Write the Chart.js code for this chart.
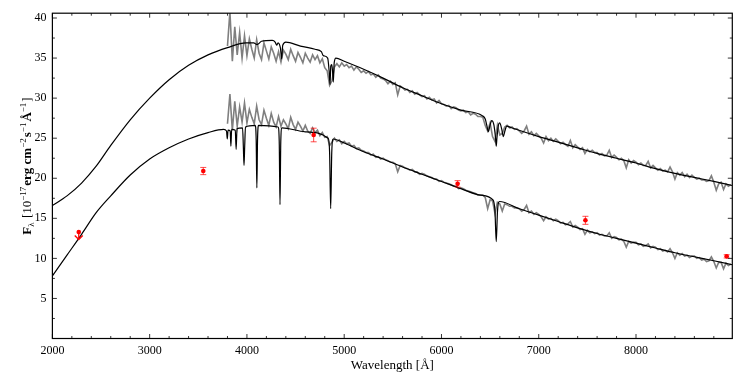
<!DOCTYPE html>
<html>
<head>
<meta charset="utf-8">
<script src="https://cdn.jsdelivr.net/npm/chart.js@4.4.1/dist/chart.umd.min.js"></script>
<style>
    html, body { margin: 0; padding: 0; background: #ffffff; }
    canvas { display: block; }
</style>
</head>
<body>
<canvas id="sed-chart" width="747" height="374"></canvas>
<script>
// axis ticks
const xTicks = [2000, 3000, 4000, 5000, 6000, 7000, 8000];
const yTicks = [5, 10, 15, 20, 25, 30, 35, 40];

// model spectra (wavelength in Angstrom, flux in 1e-17 erg/cm2/s/A)
const modelUpperWave = [2000, 2150, 2300, 2450, 2600, 2800, 3000, 3200, 3400, 3600, 3800,
    3990, 4070, 4100, 4120, 4150, 4260, 4290, 4306, 4320, 4345, 4357, 4368, 4400, 4550, 4700,
    4765, 4785, 4830, 4845, 4854, 4862, 4872, 4880, 4888, 4897, 4915, 5000, 5200, 5400, 5600,
    5800, 6000, 6200, 6420, 6450, 6468, 6482, 6497, 6516, 6540, 6556, 6563, 6570, 6585, 6598,
    6620, 6636, 6652, 6672, 6720, 7000, 7200, 7400, 7600, 7800, 8000, 8200, 8400, 8600, 8800, 8990];
const modelUpperFlux = [16.6, 17.8, 19.4, 21.5, 24.1, 27.3, 30.0, 32.3, 34.1, 35.4, 36.3,
    36.9, 36.9, 36.7, 36.8, 37.1, 37.2, 37.0, 36.6, 36.9, 36.2, 34.9, 36.6, 37.0, 36.5, 36.1,
    35.8, 35.3, 35.0, 33.4, 31.7, 34.0, 34.2, 33.4, 32.0, 34.4, 35.0, 34.6, 33.6, 32.5, 31.3,
    30.3, 29.3, 28.5, 27.8, 27.4, 26.5, 25.8, 26.5, 27.2, 26.6, 25.0, 24.0, 25.0, 26.6, 26.9,
    26.1, 25.2, 25.9, 26.5, 26.3, 25.2, 24.5, 23.8, 23.1, 22.5, 21.9, 21.2, 20.6, 20.1, 19.6, 19.1];

const modelLowerWave = [2000, 2150, 2300, 2450, 2600, 2800, 3000, 3200, 3400, 3600,
    3760, 3790, 3798, 3806, 3828, 3835, 3843, 3880, 3889, 3898, 3955, 3963, 3970, 3977, 3985,
    4085, 4095, 4102, 4109, 4120, 4320, 4332, 4340, 4348, 4360, 4600, 4835, 4850, 4861, 4872,
    4887, 5000, 5200, 5400, 5600, 5800, 6000, 6200, 6400, 6530, 6550, 6563, 6576, 6596, 6800,
    7000, 7200, 7400, 7600, 7800, 8000, 8200, 8400, 8600, 8800, 8990];
const modelLowerFlux = [7.8, 10.4, 13.0, 15.7, 17.8, 20.4, 22.4, 23.8, 24.9, 25.7,
    26.1, 25.9, 24.9, 26.0, 25.9, 24.0, 26.1, 26.0, 23.6, 26.2, 26.3, 24.0, 21.6, 24.0, 26.4,
    26.6, 24.8, 18.8, 24.8, 26.6, 26.4, 24.6, 16.7, 24.6, 26.3, 25.8, 25.0, 23.2, 16.2, 23.2,
    24.9, 24.4, 23.3, 22.4, 21.4, 20.5, 19.6, 18.7, 17.9, 17.3, 15.9, 12.1, 15.9, 17.1, 16.2,
    15.4, 14.6, 13.8, 13.1, 12.5, 11.9, 11.3, 10.7, 10.2, 9.7, 9.2];

// observed spectra
const obsWave = [
    3800, 3825, 3850, 3875, 3900, 3925, 3950, 3975,
    4000, 4025, 4050, 4075, 4100, 4125, 4150, 4175,
    4200, 4225, 4250, 4275, 4300, 4325, 4350, 4375,
    4400, 4425, 4450, 4475, 4500, 4525, 4550, 4575,
    4600, 4625, 4650, 4675, 4700, 4725, 4750, 4775,
    4800, 4825, 4850, 4875, 4900, 4925, 4950, 4975,
    5000, 5025, 5050, 5075, 5100, 5125, 5150, 5175,
    5200, 5225, 5250, 5275, 5300, 5325, 5350, 5375,
    5400, 5425, 5450, 5475, 5500, 5525, 5550, 5575,
    5600, 5625, 5650, 5675, 5700, 5725, 5750, 5775,
    5800, 5825, 5850, 5875, 5900, 5925, 5950, 5975,
    6000, 6025, 6050, 6075, 6100, 6125, 6150, 6175,
    6200, 6225, 6250, 6275, 6300, 6325, 6350, 6375,
    6400, 6425, 6450, 6475, 6500, 6525, 6550, 6575,
    6600, 6625, 6650, 6675, 6700, 6725, 6750, 6775,
    6800, 6825, 6850, 6875, 6900, 6925, 6950, 6975,
    7000, 7025, 7050, 7075, 7100, 7125, 7150, 7175,
    7200, 7225, 7250, 7275, 7300, 7325, 7350, 7375,
    7400, 7425, 7450, 7475, 7500, 7525, 7550, 7575,
    7600, 7625, 7650, 7675, 7700, 7725, 7750, 7775,
    7800, 7825, 7850, 7875, 7900, 7925, 7950, 7975,
    8000, 8025, 8050, 8075, 8100, 8125, 8150, 8175,
    8200, 8225, 8250, 8275, 8300, 8325, 8350, 8375,
    8400, 8425, 8450, 8475, 8500, 8525, 8550, 8575,
    8600, 8625, 8650, 8675, 8700, 8725, 8750, 8775,
    8800, 8825, 8850, 8875, 8900, 8925, 8950, 8975];
const obsUpperFlux = [
    36.5, 40.8, 34.6, 38.9, 35.4, 38.2, 35.0, 37.8,
    35.3, 37.4, 36.1, 35.0, 37.3, 35.6, 34.8, 36.9,
    35.9, 34.9, 36.4, 35.6, 34.6, 35.8, 34.5, 36.0,
    35.5, 34.8, 36.1, 35.3, 34.6, 35.7, 35.1, 34.4,
    35.6, 35.0, 34.5, 35.4, 34.8, 35.3, 34.4, 34.9,
    33.8, 33.4, 31.6, 32.2, 33.9, 34.3, 33.9, 34.4,
    34.0, 34.2, 33.8, 34.0, 33.5, 33.9, 33.6, 33.2,
    33.4, 33.1, 33.3, 32.9, 33.0, 32.6, 32.9, 32.5,
    32.4, 32.2, 31.8, 32.1, 31.7, 31.9, 30.4, 31.5,
    31.3, 31.0, 31.1, 30.7, 30.9, 30.5, 30.7, 30.4,
    30.2, 30.3, 29.9, 30.1, 29.8, 29.9, 29.4, 29.7,
    29.3, 29.2, 29.0, 29.1, 28.7, 28.9, 28.8, 28.5,
    28.4, 28.5, 28.2, 28.3, 27.9, 28.1, 28.0, 27.7,
    27.7, 27.6, 26.6, 25.9, 26.9, 25.2, 24.6, 26.6,
    25.4, 25.6, 26.4, 26.6, 26.3, 26.4, 26.1, 26.2,
    25.9, 25.6, 25.9, 26.5, 25.5, 25.8, 25.3, 25.6,
    25.3, 25.0, 24.4, 25.2, 24.7, 25.0, 24.6, 24.9,
    24.6, 24.3, 24.5, 24.2, 24.0, 24.7, 23.8, 24.2,
    23.9, 23.6, 23.8, 23.1, 23.6, 23.3, 23.5, 23.2,
    23.2, 22.9, 23.1, 22.8, 22.9, 23.5, 22.6, 22.9,
    22.6, 22.3, 22.5, 22.2, 21.3, 22.3, 21.9, 22.2,
    22.0, 21.7, 21.9, 21.6, 21.6, 22.1, 21.3, 21.6,
    21.3, 21.0, 21.2, 20.9, 21.0, 20.8, 21.4, 20.8,
    19.9, 20.7, 20.4, 20.7, 20.2, 20.5, 20.1, 20.4,
    20.1, 19.9, 20.0, 19.8, 19.8, 19.6, 19.7, 20.3,
    19.5, 18.5, 19.3, 19.5, 18.6, 19.3, 19.0, 19.2];
const obsLowerFlux = [
    26.8, 30.5, 26.0, 29.6, 26.5, 28.9, 27.0, 29.4,
    26.9, 28.6, 27.6, 26.8, 29.0, 27.3, 26.7, 28.5,
    27.5, 26.6, 28.1, 27.0, 26.4, 27.7, 26.5, 27.3,
    26.8, 26.2, 27.6, 26.7, 26.1, 27.0, 26.5, 25.9,
    26.6, 25.9, 25.6, 26.3, 25.7, 26.0, 25.3, 25.7,
    25.1, 25.2, 24.1, 24.5, 25.0, 24.6, 24.8, 24.3,
    24.6, 24.3, 24.4, 24.0, 24.1, 23.7, 23.8, 23.5,
    23.4, 23.2, 23.2, 22.9, 23.0, 22.6, 22.7, 22.4,
    22.5, 22.3, 22.2, 22.0, 22.0, 21.8, 20.8, 21.6,
    21.5, 21.3, 21.2, 21.0, 21.1, 20.8, 20.8, 20.5,
    20.6, 20.5, 20.3, 20.2, 20.1, 19.9, 19.9, 19.6,
    19.7, 19.5, 19.4, 19.3, 19.2, 19.0, 19.0, 18.7,
    18.8, 18.7, 18.5, 18.4, 18.3, 18.2, 18.1, 17.9,
    17.9, 17.9, 17.6, 16.2, 17.3, 17.2, 15.6, 17.0,
    16.8, 15.9, 16.8, 16.7, 16.5, 16.5, 16.3, 16.3,
    16.2, 15.9, 16.1, 16.6, 15.7, 15.9, 15.5, 15.7,
    15.5, 15.2, 14.7, 15.2, 14.9, 15.0, 14.7, 14.9,
    14.7, 14.4, 14.5, 14.2, 14.3, 14.6, 13.9, 14.1,
    13.9, 13.6, 13.7, 13.0, 13.5, 13.2, 13.3, 13.1,
    13.2, 12.9, 13.0, 12.8, 12.8, 13.2, 12.5, 12.7,
    12.6, 12.3, 12.4, 12.1, 11.4, 12.1, 11.9, 12.0,
    12.0, 11.7, 11.8, 11.5, 11.6, 11.8, 11.3, 11.5,
    11.4, 11.1, 11.2, 10.9, 11.0, 10.8, 11.2, 10.7,
    10.0, 10.7, 10.4, 10.6, 10.3, 10.4, 10.1, 10.3,
    10.3, 10.0, 10.1, 9.8, 9.9, 9.6, 9.7, 10.2,
    9.6, 8.8, 9.5, 9.5, 8.7, 9.4, 9.1, 9.3];

// broadband photometry (NUV, u, g, r, i, z)
const photWave = [2271, 3551, 4686, 6166, 7480, 8932];
const photFlux = [13.3, 20.9, 25.4, 19.3, 14.75, 10.25];
const photErr = [0.95, 0.45, 0.85, 0.4, 0.5, 0.2];
const photUpperLimit = [true, false, false, false, false, false];

const serif = "'Liberation Serif', 'Times New Roman', serif";

function toPoints(waves, fluxes) {
    return waves.map((w, i) => ({ x: w, y: fluxes[i] }));
}

const yTitleParts = [
    { text: 'F', weight: 'bold', size: 13, shift: 0 },
    { text: 'λ', weight: 'normal', size: 9, shift: 3 },
    { text: ' [10', weight: 'normal', size: 13, shift: 0 },
    { text: '−17', weight: 'normal', size: 9, shift: -5 },
    { text: 'erg cm', weight: 'bold', size: 13, shift: 0 },
    { text: '−2', weight: 'normal', size: 9, shift: -5 },
    { text: 's', weight: 'bold', size: 13, shift: 0 },
    { text: '−1', weight: 'normal', size: 9, shift: -5 },
    { text: 'Å', weight: 'bold', size: 13, shift: 0 },
    { text: '−1', weight: 'normal', size: 9, shift: -5 },
    { text: ']', weight: 'normal', size: 13, shift: 0 },
];

// error bars and the upper-limit arrow, drawn just under the photometry markers
const photometryBars = {
    id: 'photometryBars',
    beforeDatasetDraw(chart, args) {
        if (args.index !== 4) {
            return;
        }
        const { ctx, scales: { x, y } } = chart;
        ctx.save();
        photWave.forEach((w, i) => {
            const px = x.getPixelForValue(w);
            const py = y.getPixelForValue(photFlux[i]);
            ctx.beginPath();
            if (photUpperLimit[i]) {
                const tip = y.getPixelForValue(photFlux[i] - photErr[i]);
                ctx.strokeStyle = '#ff0000';
                ctx.lineWidth = 1.3;
                ctx.moveTo(px, py);
                ctx.lineTo(px, tip);
                ctx.moveTo(px - 4, tip - 4);
                ctx.lineTo(px, tip);
                ctx.lineTo(px + 4, tip - 4);
            } else {
                const top = y.getPixelForValue(photFlux[i] + photErr[i]);
                const bot = y.getPixelForValue(photFlux[i] - photErr[i]);
                ctx.strokeStyle = 'rgba(255, 0, 0, 0.7)';
                ctx.lineWidth = 1;
                ctx.moveTo(px, top);
                ctx.lineTo(px, bot);
                ctx.moveTo(px - 3, top);
                ctx.lineTo(px + 3, top);
                ctx.moveTo(px - 3, bot);
                ctx.lineTo(px + 3, bot);
            }
            ctx.stroke();
        });
        ctx.restore();
    },
};

// box round the plot with inward ticks on all four sides
const axesFrame = {
    id: 'axesFrame',
    afterDatasetsDraw(chart) {
        const { ctx, chartArea: a, scales: { x, y } } = chart;
        ctx.save();
        ctx.strokeStyle = '#000';
        ctx.lineWidth = 0.8;
        ctx.beginPath();
        for (let w = 2000; w <= x.max; w += 200) {
            const px = x.getPixelForValue(w);
            const len = w % 1000 === 0 ? 4.5 : 2.5;
            ctx.moveTo(px, a.bottom);
            ctx.lineTo(px, a.bottom - len);
            ctx.moveTo(px, a.top);
            ctx.lineTo(px, a.top + len);
        }
        for (let v = 0; v <= y.max; v += 2.5) {
            const py = y.getPixelForValue(v);
            const len = v % 5 === 0 ? 4.5 : 2.5;
            ctx.moveTo(a.left, py);
            ctx.lineTo(a.left + len, py);
            ctx.moveTo(a.right, py);
            ctx.lineTo(a.right - len, py);
        }
        ctx.stroke();
        ctx.lineWidth = 1.2;
        ctx.strokeRect(a.left, a.top, a.right - a.left, a.bottom - a.top);
        ctx.restore();
    },
};

const axisTitles = {
    id: 'axisTitles',
    afterDraw(chart) {
        const { ctx, chartArea: a } = chart;
        ctx.save();
        ctx.fillStyle = '#000';
        ctx.textBaseline = 'alphabetic';
        ctx.textAlign = 'center';
        ctx.font = `13px ${serif}`;
        ctx.fillText('Wavelength [Å]', (a.left + a.right) / 2, 369);

        ctx.textAlign = 'left';
        const widths = yTitleParts.map((p) => {
            ctx.font = `${p.weight} ${p.size}px ${serif}`;
            return ctx.measureText(p.text).width + (p.size < 13 ? 1 : 0);
        });
        const total = widths.reduce((s, w) => s + w, 0);
        ctx.translate(27, 166);
        ctx.rotate(-Math.PI / 2);
        let u = -total / 2;
        yTitleParts.forEach((p, i) => {
            ctx.font = `${p.weight} ${p.size}px ${serif}`;
            ctx.fillText(p.text, u, 4 + p.shift);
            u += widths[i];
        });
        ctx.restore();
    },
};

const tickFont = { family: serif, size: 12 };

new Chart(document.getElementById('sed-chart'), {
    type: 'line',
    data: {
        datasets: [
            {
                label: 'observed upper',
                data: toPoints(obsWave, obsUpperFlux),
                borderColor: '#7f7f7f',
                borderWidth: 1.6,
                pointRadius: 0,
                tension: 0,
                order: 2,
            },
            {
                label: 'observed lower',
                data: toPoints(obsWave, obsLowerFlux),
                borderColor: '#7f7f7f',
                borderWidth: 1.6,
                pointRadius: 0,
                tension: 0,
                order: 2,
            },
            {
                label: 'model upper',
                data: toPoints(modelUpperWave, modelUpperFlux),
                borderColor: '#000000',
                borderWidth: 1.2,
                pointRadius: 0,
                cubicInterpolationMode: 'monotone',
                order: 1,
            },
            {
                label: 'model lower',
                data: toPoints(modelLowerWave, modelLowerFlux),
                borderColor: '#000000',
                borderWidth: 1.2,
                pointRadius: 0,
                cubicInterpolationMode: 'monotone',
                order: 1,
            },
            {
                label: 'photometry',
                data: toPoints(photWave, photFlux),
                showLine: false,
                pointRadius: 2.3,
                pointBackgroundColor: '#ff0000',
                pointBorderWidth: 0,
                order: 0,
            },
        ],
    },
    options: {
        responsive: false,
        animation: false,
        events: [],
        layout: { padding: { top: 3, right: 14.7, left: 0, bottom: 0 } },
        plugins: {
            legend: { display: false },
            tooltip: { enabled: false },
        },
        scales: {
            x: {
                type: 'linear',
                min: 2000,
                max: 8990,
                grid: { display: false, drawTicks: false },
                border: { display: false },
                afterBuildTicks: (scale) => {
                    scale.ticks = xTicks.map((v) => ({ value: v }));
                },
                afterFit: (scale) => {
                    scale.height = 35.5;
                },
                ticks: {
                    autoSkip: false,
                    maxRotation: 0,
                    padding: 5,
                    color: '#000',
                    font: tickFont,
                    callback: (v) => String(v),
                },
            },
            y: {
                type: 'linear',
                min: 0,
                max: 40.6,
                grid: { display: false, drawTicks: false },
                border: { display: false },
                afterBuildTicks: (scale) => {
                    scale.ticks = yTicks.map((v) => ({ value: v }));
                },
                afterFit: (scale) => {
                    scale.width = 52.4;
                },
                ticks: {
                    padding: 6,
                    color: '#000',
                    font: tickFont,
                    callback: (v) => String(v),
                },
            },
        },
    },
    plugins: [photometryBars, axesFrame, axisTitles],
});
</script>
</body>
</html>
